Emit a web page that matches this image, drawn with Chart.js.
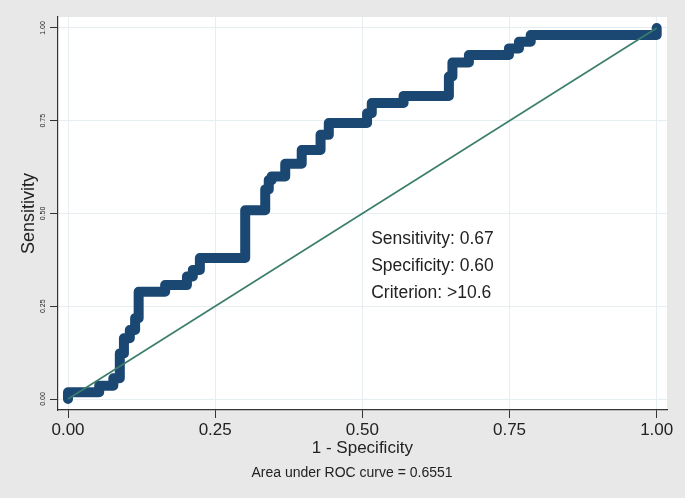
<!DOCTYPE html>
<html>
<head>
<meta charset="utf-8">
<script src="https://cdn.jsdelivr.net/npm/chart.js@4.4.1/dist/chart.umd.min.js"></script>
<style>
  body { margin: 0; background: #e8e8e8; }
  canvas { display: block; }
</style>
</head>
<body>
<canvas id="roc" width="685" height="498"></canvas>
<script>
let fpr = [0, 0, 0.053, 0.053, 0.077, 0.077, 0.088, 0.088, 0.095, 0.095, 0.105, 0.105,
    0.114, 0.114, 0.120, 0.120, 0.165, 0.165, 0.202, 0.202, 0.212, 0.212, 0.224, 0.224,
    0.301, 0.301, 0.335, 0.335, 0.341, 0.341, 0.346, 0.346, 0.369, 0.369, 0.397, 0.397,
    0.429, 0.429, 0.443, 0.443, 0.508, 0.508, 0.516, 0.516, 0.570, 0.570, 0.647, 0.647,
    0.653, 0.653, 0.681, 0.681, 0.749, 0.749, 0.766, 0.766, 0.786, 0.786, 1.0, 1.0];
let tpr = [0, 0.018, 0.018, 0.036, 0.036, 0.056, 0.056, 0.123, 0.123, 0.164, 0.164, 0.186,
    0.186, 0.218, 0.218, 0.289, 0.289, 0.307, 0.307, 0.330, 0.330, 0.348, 0.348, 0.380,
    0.380, 0.509, 0.509, 0.565, 0.565, 0.590, 0.590, 0.600, 0.600, 0.634, 0.634, 0.671,
    0.671, 0.712, 0.712, 0.744, 0.744, 0.770, 0.770, 0.798, 0.798, 0.817, 0.817, 0.869,
    0.869, 0.907, 0.907, 0.927, 0.927, 0.945, 0.945, 0.963, 0.963, 0.981, 0.981, 1.0];

let refX = [0, 1];
let refY = [0, 1];

let tickValues = [0, 0.25, 0.5, 0.75, 1];

let statLines = ['Sensitivity: 0.67', 'Specificity: 0.60', 'Criterion: >10.6'];
let statX = 0.515;
let statY = [0.43, 0.358, 0.286];

let xTitle = '1 - Specificity';
let yTitle = 'Sensitivity';
let note = 'Area under ROC curve = 0.6551';

const FONT = '"Liberation Sans", Arial, sans-serif';

function toPoints(xs, ys) {
    return xs.map((x, i) => ({ x: x, y: ys[i] }));
}

function fixedTicks(scale) {
    scale.ticks = tickValues.map(v => ({ value: v }));
}

const backdrop = {
    id: 'backdrop',
    beforeDraw(chart) {
        let ctx = chart.ctx;
        let a = chart.chartArea;
        ctx.save();
        ctx.fillStyle = '#e8e8e8';
        ctx.fillRect(0, 0, chart.width, chart.height);
        ctx.fillStyle = '#ffffff';
        ctx.fillRect(a.left, a.top, a.right - a.left, a.bottom - a.top);
        ctx.restore();
    },
    afterDraw(chart) {
        let ctx = chart.ctx;
        let xs = chart.scales.x;
        let ys = chart.scales.y;
        ctx.save();
        ctx.fillStyle = '#222';

        // y tick labels, rotated like Stata's
        ctx.font = '7px ' + FONT;
        ctx.textAlign = 'center';
        ctx.textBaseline = 'middle';
        tickValues.forEach(v => {
            ctx.save();
            ctx.translate(43, ys.getPixelForValue(v));
            ctx.rotate(-Math.PI / 2);
            ctx.fillText(v.toFixed(2), 0, 0);
            ctx.restore();
        });

        ctx.font = '18px ' + FONT;
        ctx.save();
        ctx.translate(29, (chart.chartArea.top + chart.chartArea.bottom) / 2);
        ctx.rotate(-Math.PI / 2);
        ctx.fillText(yTitle, 0, 0);
        ctx.restore();

        ctx.font = '17px ' + FONT;
        ctx.fillText(xTitle, xs.getPixelForValue(0.5), 448);

        ctx.font = '14px ' + FONT;
        ctx.fillText(note, 352, 473);

        ctx.font = '17.5px ' + FONT;
        ctx.textAlign = 'left';
        statLines.forEach((s, i) => {
            ctx.fillText(s, xs.getPixelForValue(statX), ys.getPixelForValue(statY[i]));
        });
        ctx.restore();
    }
};

let ctx = document.getElementById('roc').getContext('2d');
new Chart(ctx, {
    type: 'scatter',
    data: {
        datasets: [{
            label: 'reference',
            data: toPoints(refX, refY),
            showLine: true,
            borderColor: '#3b7d6b',
            borderWidth: 1.6,
            pointRadius: 0
        }, {
            label: 'ROC',
            data: toPoints(fpr, tpr),
            showLine: true,
            borderColor: '#1a4873',
            borderWidth: 10,
            borderCapStyle: 'round',
            borderJoinStyle: 'round',
            pointRadius: 0
        }]
    },
    options: {
        responsive: false,
        animation: false,
        layout: { padding: { top: 17, right: 18, left: 0, bottom: 0 } },
        plugins: {
            legend: { display: false },
            tooltip: { enabled: false }
        },
        scales: {
            x: {
                type: 'linear',
                min: -0.017,
                max: 1.0175,
                afterBuildTicks: fixedTicks,
                afterFit: s => { s.height = 88; },
                grid: {
                    color: '#e6eef2',
                    lineWidth: 1,
                    tickColor: '#333',
                    tickLength: 8
                },
                border: { display: true, color: '#333', width: 1.2 },
                ticks: {
                    autoSkip: false,
                    maxRotation: 0,
                    padding: 2,
                    color: '#222',
                    font: { family: FONT, size: 17 },
                    callback: v => v.toFixed(2)
                }
            },
            y: {
                type: 'linear',
                min: -0.0296,
                max: 1.0296,
                afterBuildTicks: fixedTicks,
                afterFit: s => { s.width = 58; },
                grid: {
                    color: '#e6eef2',
                    lineWidth: 1,
                    tickColor: '#333',
                    tickLength: 8
                },
                border: { display: true, color: '#333', width: 1.2 },
                ticks: {
                    autoSkip: false,
                    color: 'rgba(0,0,0,0)',
                    font: { family: FONT, size: 7 },
                    callback: v => v.toFixed(2)
                }
            }
        }
    },
    plugins: [backdrop]
});
</script>
</body>
</html>
